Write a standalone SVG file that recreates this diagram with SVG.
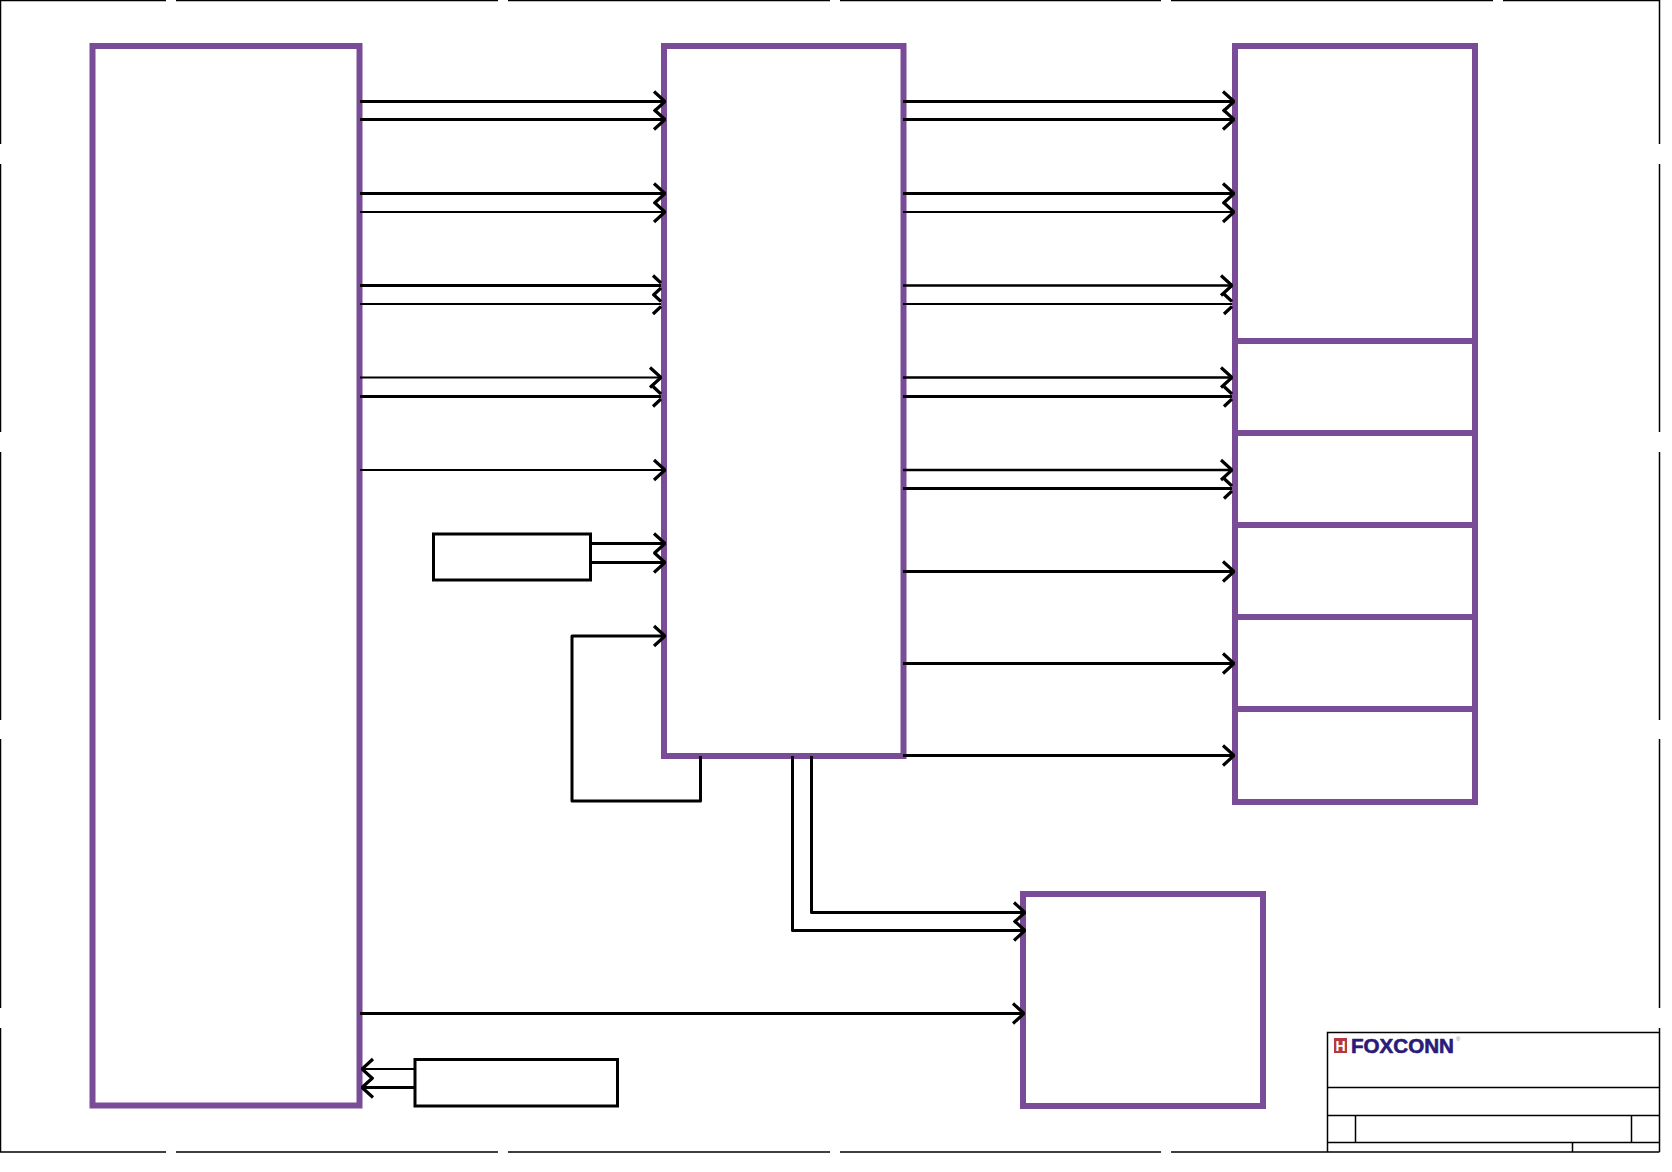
<svg xmlns="http://www.w3.org/2000/svg" width="1672" height="1172" viewBox="0 0 1672 1172">
<style>
.n{fill:#fff;stroke:#7a4c97;stroke-width:6}
.s{fill:#fff;stroke:#000;stroke-width:3}
.f{fill:none;stroke:#000;stroke-width:1.5}
.c{fill:none;stroke:#000;stroke-width:2.5;stroke-linejoin:round}
.t{stroke-width:3;marker-end:url(#h)}
.m{stroke-width:2.5;marker-end:url(#h)}
.i{stroke-width:2;marker-end:url(#h)}
.tc{stroke-width:3;marker-end:url(#k)}
.ic{stroke-width:2;marker-end:url(#k)}
</style>
<defs>
<marker id="h" markerUnits="userSpaceOnUse" markerWidth="14" markerHeight="26" viewBox="-13 -13 14 26" refX="0" refY="0" orient="auto"><path d="M-11,-10L0,0L-11,10" fill="none" stroke="#000" stroke-width="3.2"/></marker>
<marker id="k" markerUnits="userSpaceOnUse" markerWidth="14" markerHeight="26" viewBox="-13 -13 14 26" refX="0" refY="0" orient="auto"><path d="M-8,-10L0,-2.5M-8,10L0,2.5" fill="none" stroke="#000" stroke-width="3.2"/></marker>
</defs>
<rect width="1672" height="1172" fill="#fff"/>
<g id="frame" class="f">
<path d="M0,.5H166M176,.5H498M508,.5H830M840,.5H1161M1171,.5H1493M1503,.5H1659.5"/>
<path d="M.5,0V144M.5,164V432M.5,452V720M.5,739V1008M.5,1028V1152"/>
<path d="M1659.5,0V144M1659.5,164V432M1659.5,452V720M1659.5,739V1008M1659.5,1028V1152"/>
<path d="M0,1152H166M176,1152H498M508,1152H830M840,1152H1161M1171,1152H1327"/>
</g>
<g id="title-block" class="f">
<path d="M1327.5,1152V1032.5H1659.5M1327.5,1087.5H1659.5M1327.5,1115.5H1659.5M1327.5,1142.5H1659.5M1327,1152H1659.5M1355.5,1115.5V1142.5M1631.5,1115.5V1142.5M1572.5,1142.5V1152"/>
<g id="logo" stroke="none">
<rect x="1334" y="1038" width="13" height="15" fill="#b5383f"/>
<text x="1340.5" y="1051" font-family="'Liberation Sans',sans-serif" font-size="14" font-weight="700" fill="#fff" text-anchor="middle">H</text>
<text x="1351" y="1053" font-family="'Liberation Sans',sans-serif" font-size="20.5" font-weight="700" fill="#2b1b78" stroke="#2b1b78" stroke-width=".6" textLength="103" lengthAdjust="spacingAndGlyphs">FOXCONN</text>
<text x="1456" y="1041" font-family="'Liberation Sans',sans-serif" font-size="6" fill="#888">®</text>
</g>
</g>
<g id="node-left"><rect class="n" x="92.5" y="46" width="267" height="1059.5"/></g>
<g id="node-middle"><rect class="n" x="664" y="46" width="239.5" height="710"/></g>
<g id="node-right-1"><rect class="n" x="1235" y="46" width="240" height="295"/></g>
<g id="node-right-2"><rect class="n" x="1235" y="341" width="240" height="92"/></g>
<g id="node-right-3"><rect class="n" x="1235" y="433" width="240" height="92"/></g>
<g id="node-right-4"><rect class="n" x="1235" y="525" width="240" height="92"/></g>
<g id="node-right-5"><rect class="n" x="1235" y="617" width="240" height="92"/></g>
<g id="node-right-6"><rect class="n" x="1235" y="709" width="240" height="93"/></g>
<g id="node-bottom"><rect class="n" x="1023" y="894" width="240" height="212"/></g>
<g id="node-small-1"><rect class="s" x="433.5" y="534" width="157" height="46"/></g>
<g id="node-small-2"><rect class="s" x="415" y="1059.5" width="202.5" height="46.5"/></g>
<g id="connectors" class="c">
<path class="t" d="M360,101.5H665"/>
<path class="t" d="M360,119.5H665"/>
<path class="t" d="M360,193.5H665"/>
<path class="i" d="M360,212H665"/>
<path class="tc" d="M360,285.5H661"/>
<path class="ic" d="M360,304H661"/>
<path class="i" d="M360,377.5H661"/>
<path class="tc" d="M360,396.5H661"/>
<path class="i" d="M360,470H665"/>
<path class="t" d="M590,543.5H665"/>
<path class="t" d="M590,562.5H665"/>
<path class="t" d="M700.5,756V801H572V636H665" style="marker-end:none"/>
<path class="i" d="M572,636H665"/>
<path class="t" d="M903,101.5H1234"/>
<path class="t" d="M903,119.5H1234"/>
<path class="t" d="M903,193.5H1234"/>
<path class="i" d="M903,212H1234"/>
<path class="m" d="M903,285.5H1232"/>
<path class="ic" d="M903,304H1232"/>
<path class="m" d="M903,377.5H1232"/>
<path class="tc" d="M903,396.5H1232"/>
<path class="m" d="M903,470H1232"/>
<path class="tc" d="M903,488.5H1232"/>
<path class="t" d="M903,571.5H1234"/>
<path class="t" d="M903,663.5H1234"/>
<path class="t" d="M903,755.5H1234"/>
<path class="t" d="M811.5,756V912.5H1025"/>
<path class="t" d="M792.5,756V930.5H1025"/>
<path class="t" d="M360,1013.5H1024"/>
<path class="i" d="M415,1069H362"/>
<path class="t" d="M415,1087.5H362"/>
</g>
</svg>
